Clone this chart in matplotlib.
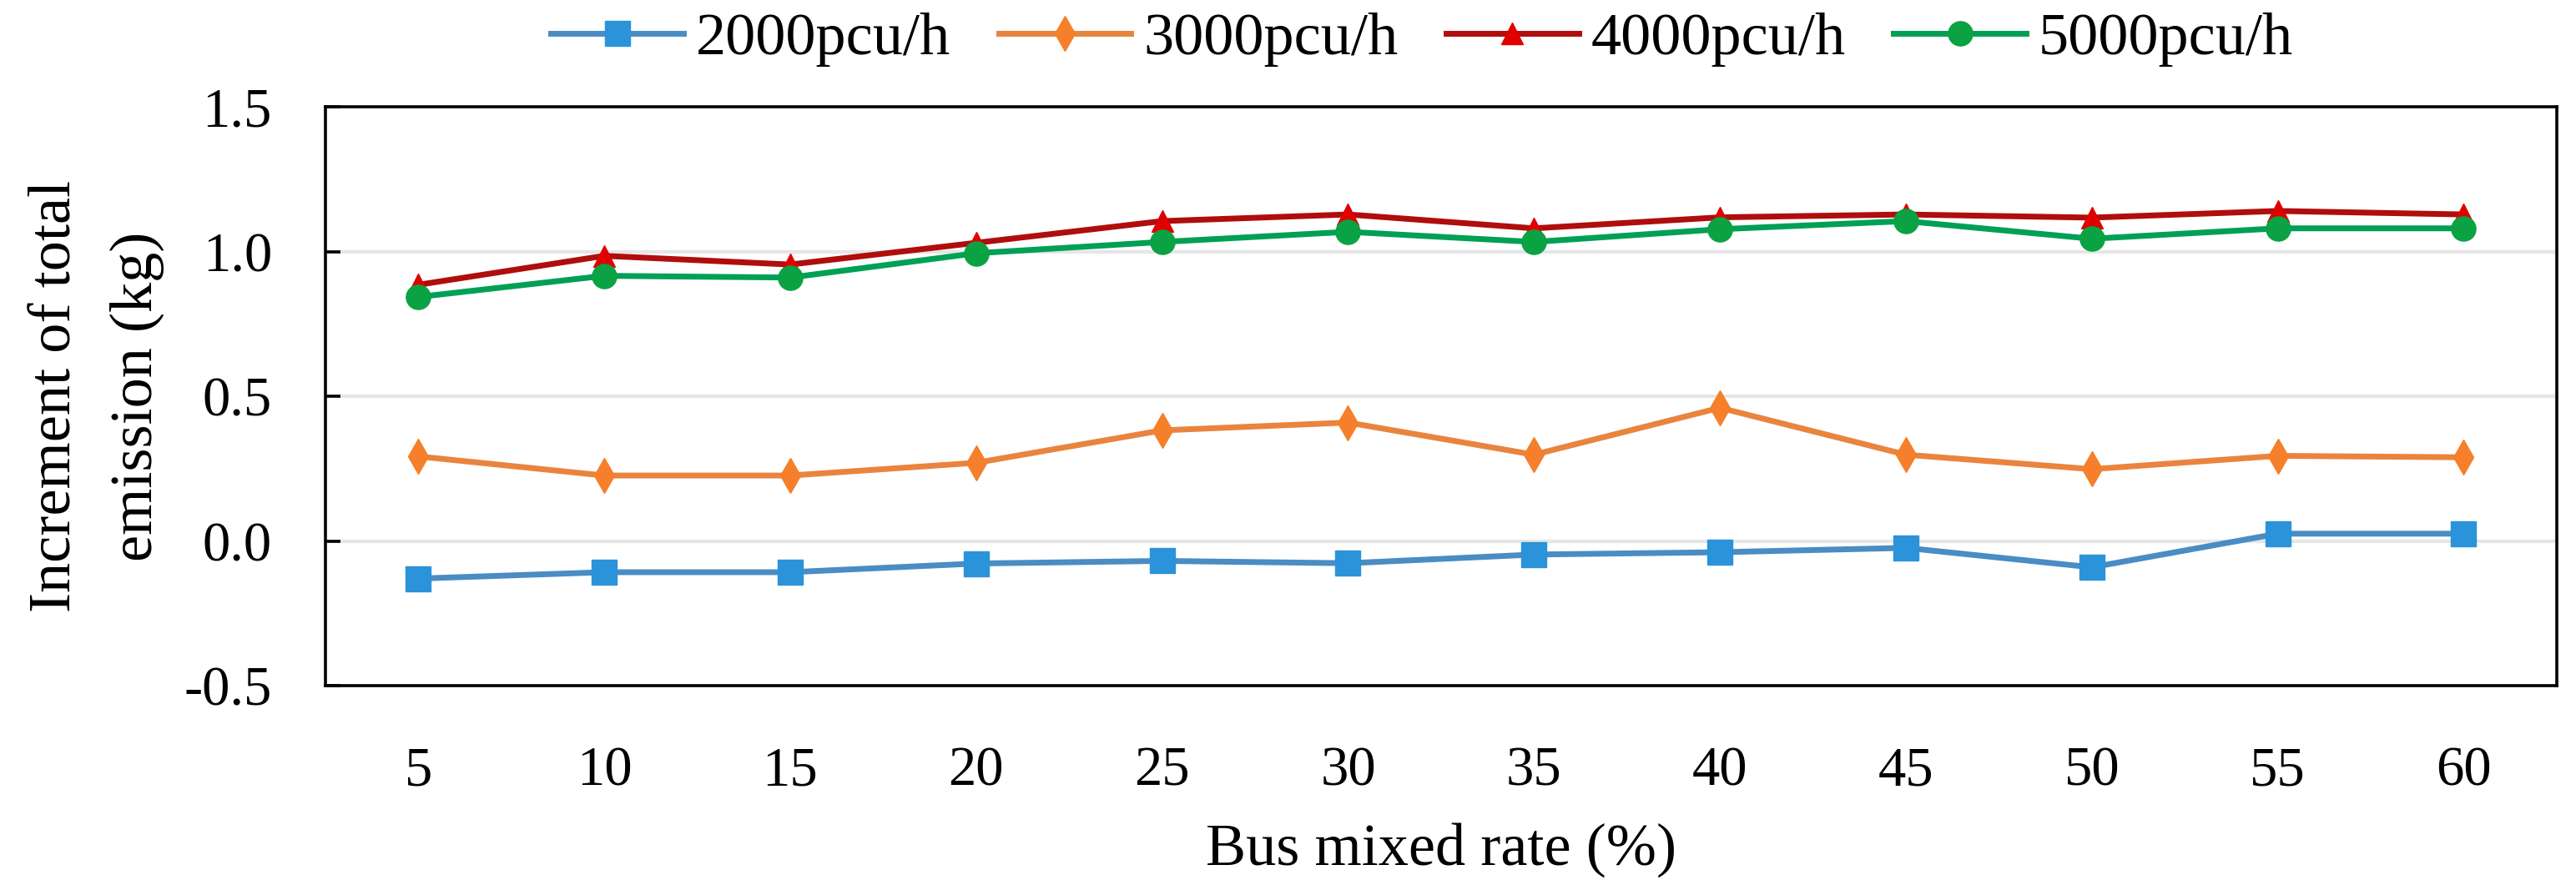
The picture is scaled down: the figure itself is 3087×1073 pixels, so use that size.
import matplotlib
matplotlib.use("Agg")
import matplotlib.pyplot as plt
import numpy as np

# bus mixed rate (%) on the x axis
rates = ["5", "10", "15", "20", "25", "30", "35", "40", "45", "50", "55", "60"]

flow_2000 = [-0.130, -0.108, -0.108, -0.078, -0.069, -0.077, -0.047, -0.039, -0.024, -0.091, 0.025, 0.025]
flow_3000 = [0.292, 0.226, 0.226, 0.270, 0.382, 0.409, 0.298, 0.460, 0.298, 0.248, 0.294, 0.289]
flow_4000 = [0.885, 0.985, 0.955, 1.030, 1.105, 1.128, 1.080, 1.118, 1.128, 1.117, 1.140, 1.128]
flow_5000 = [0.843, 0.916, 0.910, 0.994, 1.033, 1.068, 1.033, 1.077, 1.105, 1.044, 1.080, 1.080]

series = [
    ("2000pcu/h", flow_2000, "#4a8cc4", "#2b93d9", "s", 21),
    ("3000pcu/h", flow_3000, "#e9843f", "#f57f2a", "d", 21),
    ("4000pcu/h", flow_4000, "#b00d0d", "#e00000", "^", 19),
    ("5000pcu/h", flow_5000, "#00a055", "#0ba244", "o", 21),
]

plt.rcParams["font.family"] = ["Liberation Serif", "DejaVu Serif"]

fig = plt.figure(figsize=(30.87, 10.73), dpi=100)
fig.subplots_adjust(left=0.1263, right=0.9925, top=0.8807, bottom=0.2339)
ax = fig.add_subplot(111)

x = np.arange(len(rates))
for name, vals, lc, mc, mk, ms in series:
    ax.plot(x, vals, color=lc, lw=5, marker=mk, ms=ms,
            markerfacecolor=mc, markeredgecolor=mc, label=name)

ax.set_xlim(-0.5, len(rates) - 0.5)
ax.set_ylim(-0.5, 1.5)
ax.set_yticks([-0.5, 0.0, 0.5, 1.0, 1.5])
ax.set_yticklabels(["-0.5", "0.0", "0.5", "1.0", "1.5"])
ax.set_xticks(x)
ax.set_xticklabels(rates)

for v in [0.0, 0.5, 1.0]:
    ax.axhline(v, color="#e6e6e6", lw=3, zorder=0)

for s in ax.spines.values():
    s.set_linewidth(2.6)
    s.set_color("black")

ax.tick_params(axis="y", direction="in", length=13, width=2.6, pad=46, labelsize=48)
ax.tick_params(axis="x", length=0, pad=52, labelsize=48)

ax.set_xlabel("Bus mixed rate (%)", fontsize=52, labelpad=22)
ax.set_ylabel("Increment of total\nemission (kg)", fontsize=52, labelpad=17, linespacing=1.65)

fig.legend(loc="center", bbox_to_anchor=(0.552, 0.956), ncol=4, frameon=False,
           fontsize=52, handlelength=2.2, handletextpad=0.2, columnspacing=0.8)

fig.savefig("out.png", dpi=100)
